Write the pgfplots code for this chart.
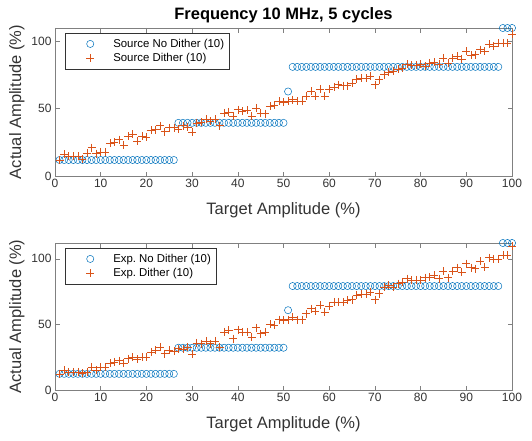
\documentclass[border=0pt]{standalone}
\usepackage{fontspec}
\setmainfont{Liberation Sans}
\usepackage{pgfplots}
\pgfplotsset{compat=1.18}

\definecolor{mblue}{rgb}{0,0.447,0.741}
\definecolor{morange}{rgb}{0.85,0.325,0.098}

\pgfplotsset{
  mat/.style={
    scale only axis, width=457pt,
    xmin=0, xmax=100, ymin=0,
    xtick={0,10,...,100}, ytick={0,50,100},
    tick align=inside, major tick length=4.5pt,
    axis line style={black!50, line width=0.5pt},
    every tick/.style={black!50, line width=0.5pt},
    tick label style={font=\fontsize{12}{14}\selectfont, text=black!80},
    label style={font=\fontsize{16.5}{19}\selectfont, text=black!80},
    xlabel style={yshift=-8pt},
    title style={font=\fontsize{16.5}{19}\selectfont\bfseries, yshift=-4pt},
    /pgf/number format/assume math mode=true,
    legend cell align=left,
    legend style={at={(0,1)}, anchor=north west, xshift=10pt, yshift=-5pt,
      font=\fontsize{11.4}{13}\selectfont, draw=black!80, line width=0.5pt,
      inner xsep=3pt, inner ysep=3.4pt, row sep=0pt,
      nodes={inner ysep=2.4pt}},
  },
  % marker sits 22pt into a 43pt wide legend image, as in the original
  wideleg/.style={
    legend image code/.code={
      \path[draw=none, fill=none] (0pt,-2pt) rectangle (43pt,2pt);
      \draw[##1] plot coordinates {(22pt,0pt)};}},
  circ/.style={only marks, mark=o, mark size=3.6pt, color=mblue,
    mark options={line width=0.5pt}, wideleg},
  crs/.style={only marks, mark=+, mark size=4pt, color=morange,
    mark options={line width=0.5pt}, wideleg},
}

\begin{document}
\begin{tikzpicture}
\path[use as bounding box] (0,0) rectangle (532pt,440pt);

% upper panel: source
\begin{axis}[mat, at={(55pt,264pt)}, anchor=south west, height=148pt,
    ymax=110, title={Frequency 10 MHz, 5 cycles},
    xlabel={Target Amplitude (\%)}, ylabel={Actual Amplitude (\%)}]
\addplot[circ] coordinates {
(1,11.9)(2,11.9)(3,11.9)(4,11.9)(5,11.9)(6,11.9)(7,11.9)(8,11.9)(9,11.9)(10,11.9)
(11,11.9)(12,11.9)(13,11.9)(14,11.9)(15,11.9)(16,11.9)(17,11.9)(18,11.9)(19,11.9)(20,11.9)
(21,11.9)(22,11.9)(23,11.9)(24,11.9)(25,11.9)(26,11.9)
(27,39.5)(28,39.5)(29,39.5)(30,39.5)(31,39.5)(32,39.5)(33,39.5)(34,39.5)(35,39.5)(36,39.5)
(37,39.5)(38,39.5)(39,39.5)(40,39.5)(41,39.5)(42,39.5)(43,39.5)(44,39.5)(45,39.5)(46,39.5)
(47,39.5)(48,39.5)(49,39.5)(50,39.5)
(51,62.8)
(52,81.1)(53,81.1)(54,81.1)(55,81.1)(56,81.1)(57,81.1)(58,81.1)(59,81.1)(60,81.1)
(61,81.1)(62,81.1)(63,81.1)(64,81.1)(65,81.1)(66,81.1)(67,81.1)(68,81.1)(69,81.1)(70,81.1)
(71,81.1)(72,81.1)(73,81.1)(74,81.1)(75,81.1)(76,81.1)(77,81.1)(78,81.1)(79,81.1)(80,81.1)
(81,81.1)(82,81.1)(83,81.1)(84,81.1)(85,81.1)(86,81.1)(87,81.1)(88,81.1)(89,81.1)(90,81.1)
(91,81.1)(92,81.1)(93,81.1)(94,81.1)(95,81.1)(96,81.1)(97,81.1)
(98,110)(99,110)(100,110)
};
\addlegendentry{Source No Dither (10)}
\addplot[crs] coordinates {
(1,12)(2,16)(3,14.6)(4,14.6)(5,14.5)(6,12.6)(7,17)(8,21)(9,16.6)(10,18)
(11,18)(12,24.5)(13,25)(14,27)(15,23)(16,29.5)(17,31)(18,26)(19,29.5)(20,29)
(21,34)(22,34.5)(23,37.5)(24,33)(25,36)(26,36)(27,35)(28,37.5)(29,36.5)(30,32.5)
(31,39.5)(32,40)(33,42)(34,40.7)(35,42)(36,37.5)(37,47)(38,47.6)(39,44.4)(40,49.4)
(41,48)(42,49)(43,44.4)(44,50.6)(45,47)(46,46.4)(47,52)(48,52.4)(49,55.6)(50,55)
(51,55.6)(52,56.8)(53,55.6)(54,55.6)(55,59.3)(56,63)(57,59.3)(58,64.8)(59,59.3)(60,64.3)
(61,66.3)(62,68)(63,67.2)(64,67.2)(65,69.2)(66,72.2)(67,73)(68,72.5)(69,74.2)(70,68)
(71,71.7)(72,75.4)(73,77.2)(74,78)(75,79.6)(76,80.4)(77,82.9)(78,82.4)(79,82.4)(80,82.9)
(81,81.6)(82,84.1)(83,84.6)(84,82.9)(85,87.8)(86,84.1)(87,87.8)(88,89)(89,87.1)(90,92.8)
(91,89.6)(92,90.3)(93,94)(94,92.8)(95,97.8)(96,96.5)(97,98.5)(98,99)(99,99)(100,105.7)
};
\addlegendentry{Source Dither (10)}
\end{axis}

% lower panel: experiment
\begin{axis}[mat, at={(55pt,50pt)}, anchor=south west, height=147pt,
    ymax=112,
    xlabel={Target Amplitude (\%)}, ylabel={Actual Amplitude (\%)}]
\addplot[circ] coordinates {
(1,12.3)(2,12.3)(3,12.3)(4,12.3)(5,12.3)(6,12.3)(7,12.3)(8,12.3)(9,12.3)(10,12.3)
(11,12.3)(12,12.3)(13,12.3)(14,12.3)(15,12.3)(16,12.3)(17,12.3)(18,12.3)(19,12.3)(20,12.3)
(21,12.3)(22,12.3)(23,12.3)(24,12.3)(25,12.3)(26,12.3)
(27,32.2)(28,32.2)(29,32.2)(30,32.2)(31,32.2)(32,32.2)(33,32.2)(34,32.2)(35,32.2)(36,32.2)
(37,32.2)(38,32.2)(39,32.2)(40,32.2)(41,32.2)(42,32.2)(43,32.2)(44,32.2)(45,32.2)(46,32.2)
(47,32.2)(48,32.2)(49,32.2)(50,32.2)
(51,60.8)
(52,79.2)(53,79.2)(54,79.2)(55,79.2)(56,79.2)(57,79.2)(58,79.2)(59,79.2)(60,79.2)
(61,79.2)(62,79.2)(63,79.2)(64,79.2)(65,79.2)(66,79.2)(67,79.2)(68,79.2)(69,79.2)(70,79.2)
(71,79.2)(72,79.2)(73,79.2)(74,79.2)(75,79.2)(76,79.2)(77,79.2)(78,79.2)(79,79.2)(80,79.2)
(81,79.2)(82,79.2)(83,79.2)(84,79.2)(85,79.2)(86,79.2)(87,79.2)(88,79.2)(89,79.2)(90,79.2)
(91,79.2)(92,79.2)(93,79.2)(94,79.2)(95,79.2)(96,79.2)(97,79.2)
(98,112)(99,112)(100,112)
};
\addlegendentry{Exp.\ No Dither (10)}
\addplot[crs] coordinates {
(1,12.2)(2,15.2)(3,13.9)(4,13.9)(5,13.9)(6,12.7)(7,13.9)(8,17.7)(9,15.2)(10,17.2)
(11,17.2)(12,20.3)(13,21.5)(14,22.3)(15,20.3)(16,24)(17,24.8)(18,23.3)(19,25.3)(20,24.8)
(21,29.1)(22,30.4)(23,32.9)(24,27.8)(25,30.4)(26,29.9)(27,31.6)(28,30.9)(29,32.9)(30,27.3)
(31,35.9)(32,35.4)(33,37.5)(34,35.4)(35,37.5)(36,32.9)(37,44.3)(38,45.6)(39,39.2)(40,46)
(41,44.3)(42,44.3)(43,40.5)(44,47.6)(45,43)(46,44.3)(47,50.1)(48,49.4)(49,53.7)(50,53.2)
(51,53.7)(52,55.7)(53,53.7)(54,53.7)(55,58.2)(56,62)(57,60.3)(58,64.6)(59,59.5)(60,63.8)
(61,67.1)(62,67.1)(63,67.1)(64,68.4)(65,68.9)(66,72.2)(67,72.9)(68,72.9)(69,74.7)(70,68.9)
(71,73.4)(72,78.5)(73,79.7)(74,78.5)(75,81)(76,82.3)(77,84.8)(78,84)(79,84)(80,84)
(81,85.6)(82,86)(83,87.3)(84,84.8)(85,90.6)(86,85.6)(87,90.6)(88,93.2)(89,89.9)(90,96.2)
(91,93.2)(92,92.4)(93,98.2)(94,93.7)(95,100.8)(96,100)(97,100)(98,102.5)(99,102.5)(100,109.4)
};
\addlegendentry{Exp.\ Dither (10)}
\end{axis}
\end{tikzpicture}
\end{document}
